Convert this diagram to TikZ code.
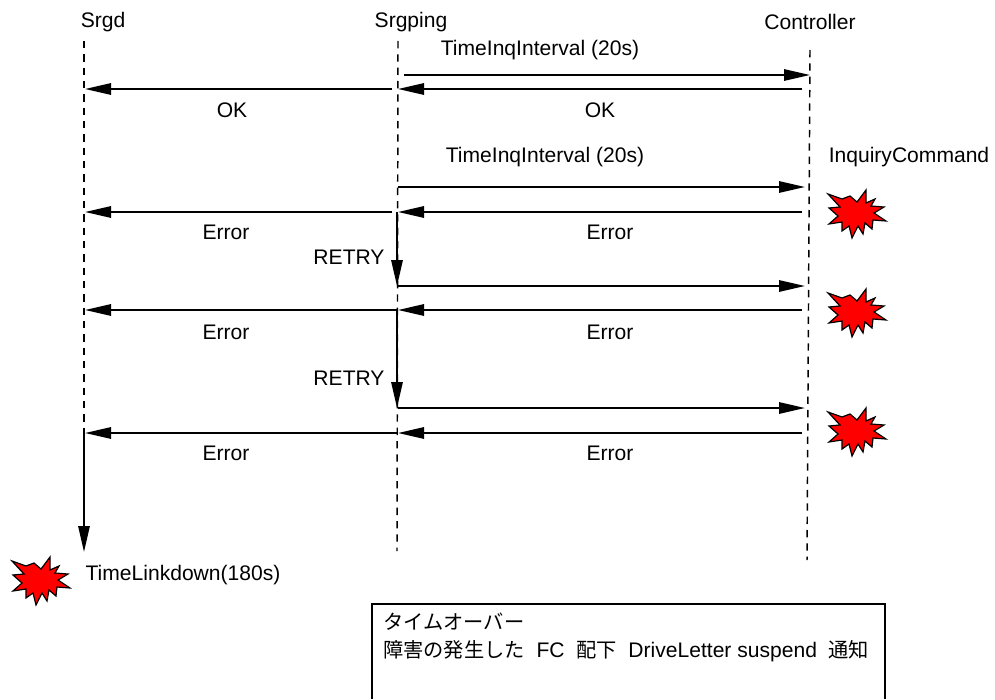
\documentclass[tikz,border=0pt]{standalone}
\usepackage{fontspec}
\setmainfont{Liberation Sans}
\newfontfamily\cjk[Scale=0.96]{Noto Sans CJK JP}
\usetikzlibrary{arrows.meta}
\tikzset{
  lbl/.style={font=\fontsize{15.8}{21.5}\selectfont, inner sep=0pt},
  life/.style={line width=1.1pt, dash pattern=on 5.5pt off 4.5pt},
  msg/.style={line width=1.5pt, -{Triangle[length=19.5pt, width=8.5pt]}},
  bare/.style={line width=1.3pt},
  burst/.pic={
    \draw[fill=red, line width=0.9pt, miter limit=10] (-28,-19) -- (-14,-14) -- (-6,-17) -- (1,-11) -- (10,-23) -- (10,-10) -- (19,-14) -- (15,-7) -- (28,-6) -- (18,0) -- (30,8) -- (17,7) -- (16,16) -- (9,10) -- (7,21) -- (2,13) -- (-4,25) -- (-7,13) -- (-14,18) -- (-14,9) -- (-27,11) -- (-18,3) -- (-27,-5) -- (-16,-6) -- cycle;
  }
}
\begin{document}
\begin{tikzpicture}[x=0.75pt, y=-0.75pt]
  \useasboundingbox (0, 0) rectangle (995, 699);

  \node (srgd) at (103, 22) [lbl] {Srgd};
  \node (srgping) at (411, 22) [lbl] {Srgping};
  \node (controller) at (810, 22) [lbl] {Controller};
  \node (inquiry) at (909, 157) [lbl] {InquiryCommand};
  \node (interval1) at (540, 50) [lbl] {TimeInqInterval (20s)};
  \node (interval2) at (545, 157) [lbl] {TimeInqInterval (20s)};
  \node (ok1) at (232, 110) [lbl] {OK};
  \node (ok2) at (600, 110) [lbl] {OK};
  \node (error1) at (226, 232) [lbl] {Error};
  \node (error2) at (610, 232) [lbl] {Error};
  \node (error3) at (226, 332) [lbl] {Error};
  \node (error4) at (610, 332) [lbl] {Error};
  \node (error5) at (226, 453) [lbl] {Error};
  \node (error6) at (610, 453) [lbl] {Error};
  \node (retry1) at (349, 257) [lbl] {RETRY};
  \node (retry2) at (349, 378) [lbl] {RETRY};
  \node (linkdown) at (183, 575) [lbl] {TimeLinkdown(180s)};

  % lifelines
  \coordinate (srgdtop) at (84, 41);
  \coordinate (srgdend) at (84, 433);
  \coordinate (pingtop) at (398, 41);
  \coordinate (pingend) at (397, 551);
  \coordinate (ctrltop) at (810, 50);
  \coordinate (ctrlend) at (807, 560);
  \draw[life] (srgdtop) -- (srgdend);
  \draw[life] (pingtop) -- (pingend);
  \draw[life] (ctrltop) -- (ctrlend);

  % first poll
  \coordinate (a1) at (404, 75);
  \coordinate (a2) at (810, 75);
  \coordinate (b1) at (802, 89);
  \coordinate (b2) at (398, 89);
  \coordinate (b3) at (392, 89);
  \coordinate (b4) at (85, 89);
  \draw[msg] (a1) -- (a2);
  \draw[msg] (b1) -- (b2);
  \draw[msg] (b3) -- (b4);

  % second poll
  \coordinate (c1) at (398, 187);
  \coordinate (c2) at (805, 187);
  \coordinate (d1) at (802, 212);
  \coordinate (d2) at (398, 212);
  \coordinate (d3) at (392, 212);
  \coordinate (d4) at (85, 212);
  \coordinate (e1) at (397, 212);
  \coordinate (e2) at (397, 286);
  \draw[msg] (c1) -- (c2);
  \draw[msg] (d1) -- (d2);
  \draw[msg] (d3) -- (d4);
  \draw[msg] (e1) -- (e2);

  % third poll
  \coordinate (f1) at (398, 286);
  \coordinate (f2) at (805, 286);
  \coordinate (g1) at (802, 310);
  \coordinate (g2) at (398, 310);
  \coordinate (g3) at (397, 310);
  \coordinate (g4) at (85, 310);
  \coordinate (h1) at (397, 310);
  \coordinate (h2) at (397, 408);
  \draw[msg] (f1) -- (f2);
  \draw[msg] (g1) -- (g2);
  \draw[msg] (g3) -- (g4);
  \draw[msg] (h1) -- (h2);

  % fourth poll
  \coordinate (i1) at (398, 408);
  \coordinate (i2) at (805, 408);
  \coordinate (j1) at (802, 433);
  \coordinate (j2) at (398, 433);
  \coordinate (j3) at (397, 433);
  \coordinate (j4) at (85, 433);
  \coordinate (k1) at (84, 433);
  \coordinate (k2) at (84, 552);
  \draw[msg] (i1) -- (i2);
  \draw[msg] (j1) -- (j2);
  \draw[msg] (j3) -- (j4);
  \draw[msg] (k1) -- (k2);

  \pic at (856, 213) {burst};
  \pic at (856, 312) {burst};
  \pic at (856, 431) {burst};
  \pic at (40, 580) {burst};

  % note box, runs off the bottom edge
  \coordinate (boxa) at (372, 699);
  \coordinate (boxb) at (372, 604);
  \coordinate (boxc) at (885, 604);
  \coordinate (boxd) at (885, 699);
  \draw[bare] (boxa) -- (boxb) -- (boxc) -- (boxd);
  \node (note) at (383, 637.5) [lbl, anchor=west, align=left] {{\cjk タイムオーバー}\\{\cjk 障害の発生した}\ \ FC\ \ {\cjk 配下}\ \ DriveLetter suspend\ \ {\cjk 通知}};
\end{tikzpicture}
\end{document}
